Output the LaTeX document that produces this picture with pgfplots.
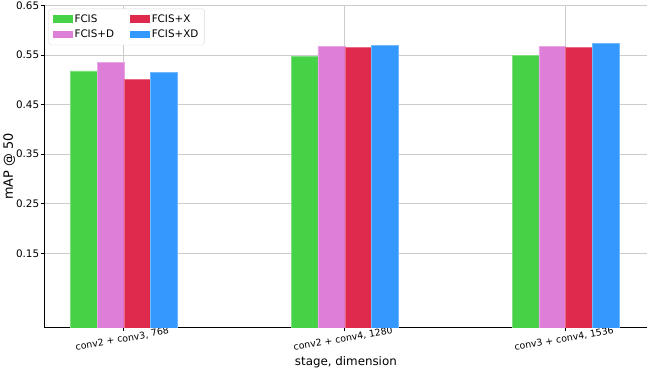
\documentclass[border=0pt]{standalone}
\usepackage{pgfplots}
\pgfplotsset{compat=1.18}
\usepackage{fontspec}
\setmainfont{DejaVu Sans}
\definecolor{cgreen}{HTML}{46D246}
\definecolor{cpink}{HTML}{DD7ED8}
\definecolor{cred}{HTML}{DF2A4E}
\definecolor{cblue}{HTML}{3399FF}
\begin{document}
\begin{tikzpicture}
\begin{axis}[
  scale only axis,
  width=608bp, height=325bp,
  ybar=0pt,
  bar width=27bp,
  ymin=0, ymax=0.65,
  xmin=-0.36, xmax=2.37,
  xtick={0,1,2},
  xticklabels={{conv2 + conv3, 768},{conv2 + conv4, 1280},{conv3 + conv4, 1536}},
  ytick={0.15,0.25,0.35,0.45,0.55,0.65},
  yticklabel style={/pgf/number format/fixed, /pgf/number format/precision=2, /pgf/number format/fixed zerofill, font=\fontsize{10.5}{12}\selectfont, inner sep=1.5bp},
  /pgf/number format/assume math mode=true,
  x tick label style={rotate=10, anchor=north, font=\fontsize{9.5}{11}\selectfont, xshift=-3bp},
  xlabel={stage, dimension},
  ylabel={mAP @ 50},
  xlabel style={font=\fontsize{12}{14}\selectfont, yshift=3bp},
  ylabel style={font=\fontsize{13}{15}\selectfont, yshift=-4bp},
  axis x line*=bottom, axis y line*=left,
  axis line style={line width=1.2bp, -},
  tick align=outside,
  major tick length=3.5bp,
  tick style={black, line width=0.8bp},
  grid=major,
  grid style={line width=0.8bp, draw=black!20},
  legend style={at={(0.007,0.99)}, anchor=north west, legend columns=2,
    draw=black!15, rounded corners=2bp, font=\fontsize{10.5}{12}\selectfont,
    /tikz/every even column/.append style={column sep=14bp},
    inner xsep=4bp, inner ysep=4bp, row sep=2bp},
  legend image code/.code={\draw[#1, draw=none, sharp corners] (0bp,-4bp) rectangle (20bp,4bp);},
  legend cell align=left,
  transpose legend,
]
\addplot[fill=cgreen, draw=cgreen!70!white, line width=0.5bp] coordinates {(0,0.518) (1,0.547) (2,0.549)};
\addplot[fill=cpink, draw=cpink!70!white, line width=0.5bp] coordinates {(0,0.535) (1,0.567) (2,0.567)};
\addplot[fill=cred, draw=cred!70!white, line width=0.5bp] coordinates {(0,0.501) (1,0.565) (2,0.566)};
\addplot[fill=cblue, draw=cblue!70!white, line width=0.5bp] coordinates {(0,0.515) (1,0.569) (2,0.573)};
\legend{FCIS, FCIS+D, FCIS+X, FCIS+XD}
\end{axis}
\end{tikzpicture}
\end{document}
